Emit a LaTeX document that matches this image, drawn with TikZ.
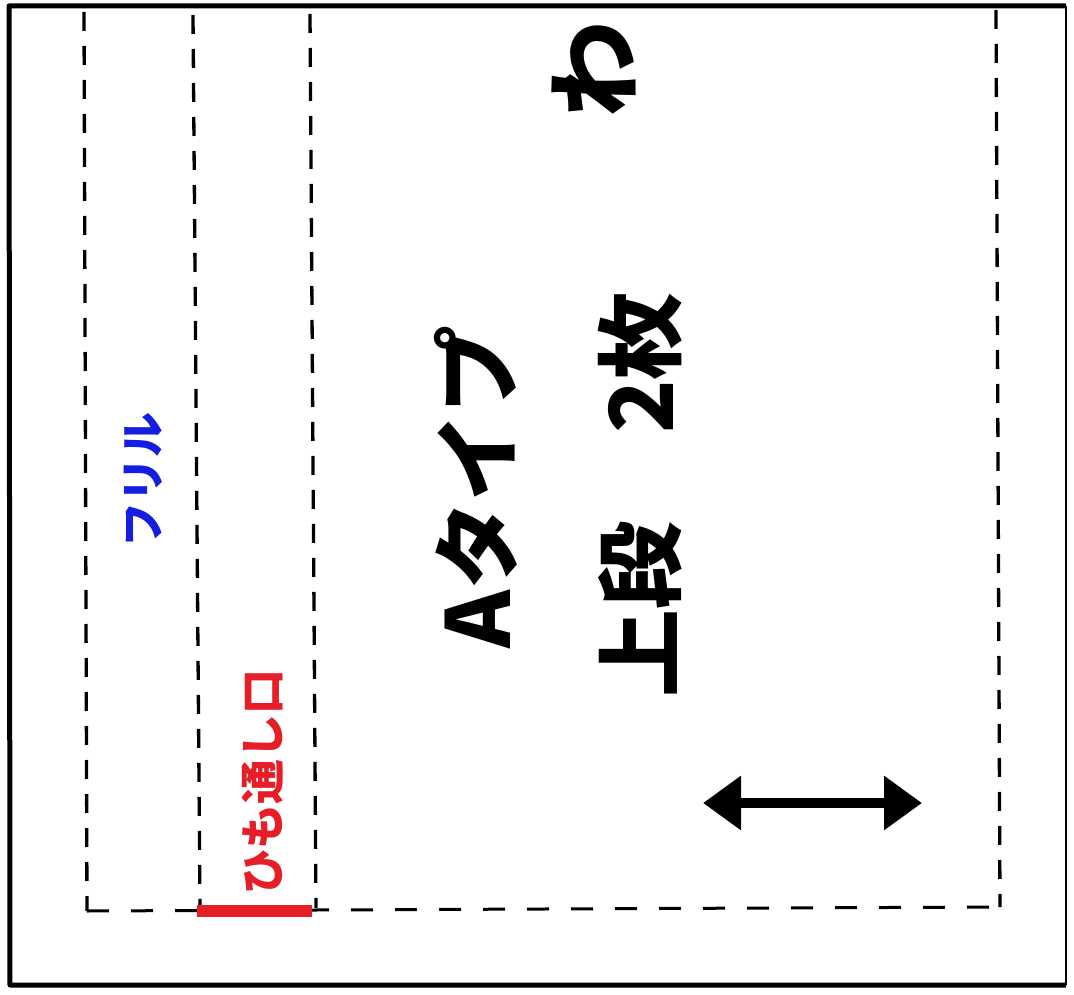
\documentclass[tikz,border=0pt]{standalone}
\usepackage{fontspec}
\newfontfamily\cjk{Noto Sans CJK JP}[BoldFont={Noto Sans CJK JP Black}]
\usetikzlibrary{arrows.meta}
\definecolor{frillblue}{RGB}{20,30,225}
\definecolor{cordred}{RGB}{230,30,40}
\tikzset{
  frame/.style={line width=5pt, line join=round},
  fold/.style={line width=3.3pt, dash pattern=on 19pt off 15pt},
  foldh/.style={line width=3pt, dash pattern=on 22pt off 22pt},
  bigtext/.style={font=\cjk\bfseries\fontsize{88}{88}\selectfont, rotate=90, inner sep=0pt},
  smalltext/.style={font=\cjk\bfseries\fontsize{45}{45}\selectfont, rotate=90, inner sep=0pt},
  dblarrow/.style={line width=10pt, {Triangle[length=38pt,width=52pt]}-{Triangle[length=38pt,width=52pt]}}
}
\begin{document}
\begin{tikzpicture}[x=1pt,y=-1pt]
\useasboundingbox (0,0) rectangle (1074,995);
\fill[white] (0,0) rectangle (1074,995);
% outer frame
\coordinate (tl) at (9,6);
\coordinate (tr) at (1066,6);
\coordinate (br) at (1066,985);
\coordinate (bl) at (10,985);
\draw[frame] (br) -- (bl) -- (tl) -- (tr);
\draw[line width=2pt] (tr) -- (br);
% dashed fold lines
\coordinate (d1t) at (84,12);  \coordinate (d1b) at (87,911);
\coordinate (d2t) at (193,15); \coordinate (d2b) at (200,908);
\coordinate (d3t) at (310,14); \coordinate (d3b) at (316,908);
\coordinate (d4t) at (996,10); \coordinate (d4b) at (1000,907);
\draw[fold] (d1t) -- (d1b);
\draw[fold] (d2t) -- (d2b);
\draw[fold] (d3t) -- (d3b);
\draw[fold] (d4t) -- (d4b);
\draw[foldh] (d1b) -- (d4b);
% red cord opening
\coordinate (r1) at (197,911);
\coordinate (r2) at (312,911);
\draw[cordred, line width=12pt] (r1) -- (r2);
% labels
\node[bigtext] (wa) at (594,70) {\fontsize{96}{96}\selectfont わ};
\node[bigtext] (atype) at (476,487) {Aタイプ};
\node[bigtext] (joudan) at (640,495) {上段　2枚};
\node[smalltext, text=frillblue] (frill) at (143,480) {フリル};
\node[smalltext, text=cordred] (himo) at (263,782) {ひも通し口};
% grain arrow
\coordinate (a1) at (703,803);
\coordinate (a2) at (922,803);
\draw[dblarrow] (a1) -- (a2);
\end{tikzpicture}
\end{document}
